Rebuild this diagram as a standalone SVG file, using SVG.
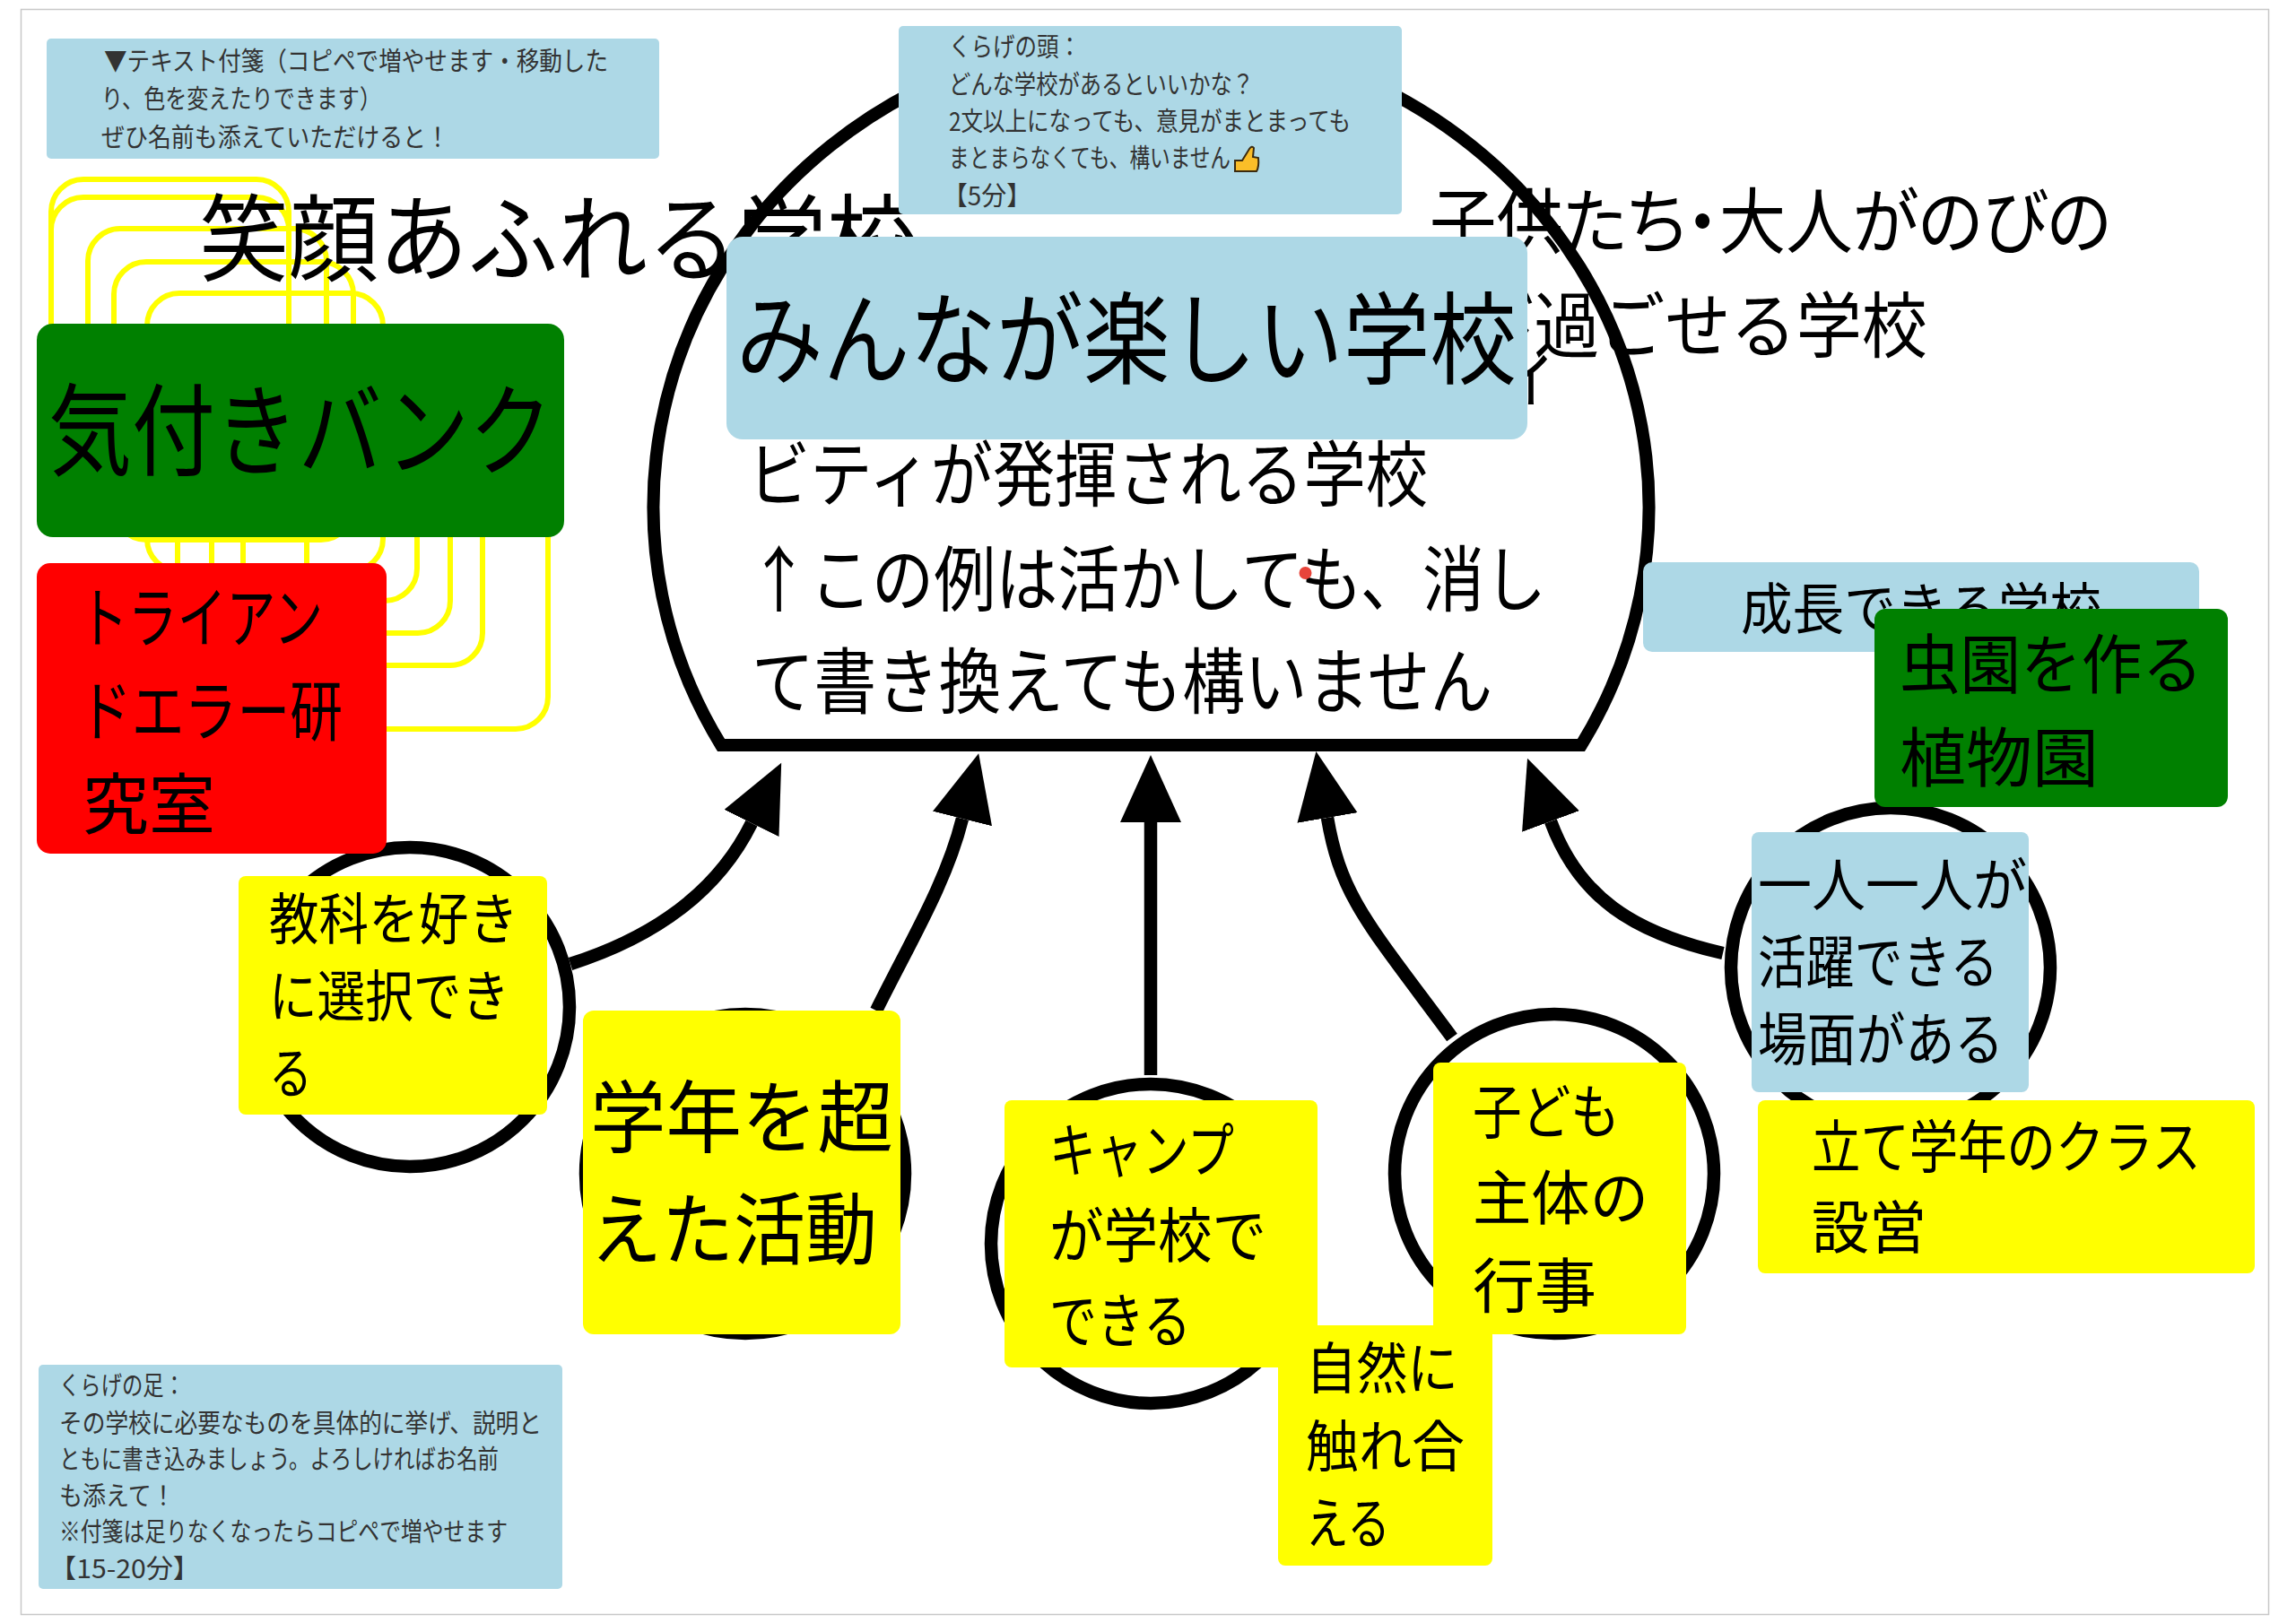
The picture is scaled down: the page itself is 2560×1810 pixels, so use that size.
<svg xmlns="http://www.w3.org/2000/svg" width="2560" height="1810" viewBox="0 0 2560 1810">
<defs>
<marker id="head" markerUnits="userSpaceOnUse" markerWidth="80" markerHeight="70" refX="0" refY="34" orient="auto"><path d="M0,0 L75,34 L0,68 Z" fill="#000"/></marker>
</defs>
<style>
text{font-family:"Noto Sans CJK JP","Noto Sans",sans-serif;font-weight:400;fill:#000;}
text.p{font-feature-settings:"palt";}
.note text{fill:#333;font-size:29px;}
.lb{fill:#add8e6}.yl{fill:#ff0}.gr{fill:#008000}.rd{fill:#f00}
.ol{fill:none;stroke:#ff0;stroke-width:6}
.cir{fill:#fff;stroke:#000;stroke-width:14.5}
.con{fill:none;stroke:#000;stroke-width:14.5}
</style>
<rect width="2560" height="1810" fill="#fff"/>
<rect x="23.5" y="10.5" width="2506" height="1790" fill="#fff" stroke="#c8c8c8" stroke-width="1.5"/>
<g id="yellow-stack">
<rect class="ol" x="57" y="200" width="265" height="310" rx="36"/>
<rect class="ol" x="57" y="220" width="265" height="310" rx="36"/>
<rect class="ol" x="98" y="255" width="266" height="310" rx="36"/>
<rect class="ol" x="127" y="292" width="267" height="310" rx="36"/>
<rect class="ol" x="164" y="327" width="263" height="310" rx="36"/>
<rect class="ol" x="198" y="367" width="267" height="303" rx="36"/>
<rect class="ol" x="236" y="396" width="266" height="310" rx="36"/>
<rect class="ol" x="271" y="432" width="267" height="310" rx="36"/>
<rect class="ol" x="342" y="503" width="269" height="310" rx="36"/>
</g>
<g id="head-dome">
<path d="M804,831 A555,527 0 1 1 1763,831 Z" fill="#fff" stroke="#000" stroke-width="14" stroke-linejoin="miter"/>
</g>
<g id="connectors">
<path class="con" marker-end="url(#head)" d="M636,1075 C730,1045 800,995 838,918"/>
<path class="con" marker-end="url(#head)" d="M977,1127 C1015,1050 1055,985 1073,913"/>
<path class="con" marker-end="url(#head)" d="M1283,1199 L1283,917"/>
<path class="con" marker-end="url(#head)" d="M1619,1157 C1525,1030 1495,1000 1480,912"/>
<path class="con" marker-end="url(#head)" d="M1921,1063 C1820,1040 1760,1000 1729,916"/>
</g>
<g id="leg-circles">
<circle class="cir" cx="457" cy="1123" r="178"/>
<circle class="cir" cx="831" cy="1309" r="178"/>
<circle class="cir" cx="1283" cy="1387" r="178"/>
<circle class="cir" cx="1733" cy="1309" r="178"/>
<circle class="cir" cx="2108" cy="1079" r="178"/>
</g>
<g id="head-text">
<text lengthAdjust="spacingAndGlyphs" x="222" y="305" font-size="106" textLength="800">笑顔あふれる学校</text>
<text class="p" lengthAdjust="spacingAndGlyphs" x="1594" y="276" font-size="80" textLength="760">子供たち・大人がのびの</text>
<text lengthAdjust="spacingAndGlyphs" x="1637" y="392" font-size="80" textLength="512">び過ごせる学校</text>
<text lengthAdjust="spacingAndGlyphs" x="1672" y="444" font-size="80" textLength="68">ィ</text>
<text lengthAdjust="spacingAndGlyphs" x="834" y="558" font-size="80" textLength="758">ビティが発揮される学校</text>
<text lengthAdjust="spacingAndGlyphs" x="834" y="675" font-size="80" textLength="890">↑この例は活かしても、消し</text>
<text lengthAdjust="spacingAndGlyphs" x="838" y="789" font-size="80" textLength="826">て書き換えても構いません</text>
<circle cx="1455.5" cy="639" r="7" fill="#e8443a"/>
</g>
<g id="note-instructions" class="note">
<rect class="lb" x="52" y="43" width="683" height="134" rx="5"/>
<text lengthAdjust="spacingAndGlyphs" x="116" y="79" textLength="562">▼テキスト付箋（コピペで増やせます・移動した</text>
<text lengthAdjust="spacingAndGlyphs" x="113" y="121" textLength="312">り、色を変えたりできます）</text>
<text lengthAdjust="spacingAndGlyphs" x="113" y="164" textLength="388">ぜひ名前も添えていただけると！</text>
</g>
<g id="note-head" class="note">
<rect class="lb" x="1002" y="29" width="561" height="210" rx="5"/>
<text lengthAdjust="spacingAndGlyphs" x="1058" y="63" textLength="147">くらげの頭：</text>
<text lengthAdjust="spacingAndGlyphs" x="1058" y="105" textLength="340">どんな学校があるといいかな？</text>
<text lengthAdjust="spacingAndGlyphs" x="1058" y="146" textLength="448">2文以上になっても、意見がまとまっても</text>
<text lengthAdjust="spacingAndGlyphs" x="1058" y="187" textLength="314">まとまらなくても、構いません</text>
<text lengthAdjust="spacingAndGlyphs" x="1051" y="229" textLength="99">【5分】</text>
<path d="M1377,179 L1385,179 L1393,166 Q1396,162 1398,165 L1397,175 L1403,176 Q1404,186 1401,191 L1377,191 Z" fill="#fbbe28" stroke="#3a2a10" stroke-width="2"/>
</g>
<g id="main-title">
<rect class="lb" x="810" y="264" width="893" height="226" rx="18"/>
<text lengthAdjust="spacingAndGlyphs" x="821" y="420" font-size="112" textLength="870">みんなが楽しい学校</text>
</g>
<g id="note-legs" class="note">
<rect class="lb" x="43" y="1522" width="584" height="250" rx="5"/>
<text lengthAdjust="spacingAndGlyphs" x="66" y="1556" textLength="140">くらげの足：</text>
<text lengthAdjust="spacingAndGlyphs" x="66" y="1598" textLength="538">その学校に必要なものを具体的に挙げ、説明と</text>
<text lengthAdjust="spacingAndGlyphs" x="66" y="1638" textLength="490">ともに書き込みましょう。よろしければお名前</text>
<text lengthAdjust="spacingAndGlyphs" x="66" y="1679" textLength="129">も添えて！</text>
<text lengthAdjust="spacingAndGlyphs" x="66" y="1719" textLength="500">※付箋は足りなくなったらコピペで増やせます</text>
<text lengthAdjust="spacingAndGlyphs" x="55" y="1760" textLength="168">【15-20分】</text>
</g>
<g id="bank">
<rect class="gr" x="41" y="361" width="588" height="238" rx="18"/>
<text lengthAdjust="spacingAndGlyphs" x="54" y="522" font-size="112" textLength="562">気付きバンク</text>
</g>
<g id="trial">
<rect class="rd" x="41" y="628" width="390" height="324" rx="15"/>
<text lengthAdjust="spacingAndGlyphs" x="88" y="716" font-size="74" textLength="272">トライアン</text>
<text lengthAdjust="spacingAndGlyphs" x="88" y="820" font-size="74" textLength="294">ドエラー研</text>
<text lengthAdjust="spacingAndGlyphs" x="92" y="924" font-size="74" textLength="148">究室</text>
</g>
<g id="growth">
<rect class="lb" x="1832" y="627" width="620" height="100" rx="10"/>
<text lengthAdjust="spacingAndGlyphs" x="1941" y="702" font-size="62" textLength="402">成長できる学校</text>
</g>
<g id="insect">
<rect class="gr" x="2090" y="679" width="394" height="221" rx="12"/>
<text lengthAdjust="spacingAndGlyphs" x="2118" y="767" font-size="72" textLength="338">虫園を作る</text>
<text lengthAdjust="spacingAndGlyphs" x="2118" y="871" font-size="72" textLength="222">植物園</text>
</g>
<g id="leg1">
<rect class="yl" x="266" y="977" width="344" height="266" rx="8"/>
<text lengthAdjust="spacingAndGlyphs" x="300" y="1048" font-size="62" textLength="278">教科を好き</text>
<text lengthAdjust="spacingAndGlyphs" x="300" y="1134" font-size="62" textLength="268">に選択でき</text>
<text lengthAdjust="spacingAndGlyphs" x="300" y="1220" font-size="62" textLength="48">る</text>
</g>
<g id="leg2">
<rect class="yl" x="650" y="1127" width="354" height="361" rx="12"/>
<text lengthAdjust="spacingAndGlyphs" x="658" y="1278" font-size="88" textLength="338">学年を超</text>
<text lengthAdjust="spacingAndGlyphs" x="658" y="1403" font-size="88" textLength="320">えた活動</text>
</g>
<g id="leg3">
<rect class="yl" x="1120" y="1227" width="349" height="298" rx="8"/>
<text lengthAdjust="spacingAndGlyphs" x="1170" y="1307" font-size="66" textLength="206">キャンプ</text>
<text lengthAdjust="spacingAndGlyphs" x="1170" y="1402" font-size="66" textLength="242">が学校で</text>
<text lengthAdjust="spacingAndGlyphs" x="1170" y="1497" font-size="66" textLength="158">できる</text>
</g>
<g id="leg4">
<rect class="yl" x="1598" y="1185" width="282" height="303" rx="8"/>
<text lengthAdjust="spacingAndGlyphs" x="1642" y="1264" font-size="66" textLength="164">子ども</text>
<text lengthAdjust="spacingAndGlyphs" x="1642" y="1360" font-size="66" textLength="196">主体の</text>
<text lengthAdjust="spacingAndGlyphs" x="1642" y="1458" font-size="66" textLength="138">行事</text>
</g>
<g id="leg5">
<rect class="yl" x="1425" y="1478" width="239" height="268" rx="8"/>
<text lengthAdjust="spacingAndGlyphs" x="1456" y="1549" font-size="62" textLength="170">自然に</text>
<text lengthAdjust="spacingAndGlyphs" x="1456" y="1636" font-size="62" textLength="177">触れ合</text>
<text lengthAdjust="spacingAndGlyphs" x="1456" y="1722" font-size="62" textLength="94">える</text>
</g>
<g id="leg6">
<rect class="lb" x="1953" y="928" width="309" height="290" rx="8"/>
<text lengthAdjust="spacingAndGlyphs" x="1960" y="1010" font-size="64" textLength="300">一人一人が</text>
<text lengthAdjust="spacingAndGlyphs" x="1960" y="1096" font-size="64" textLength="268">活躍できる</text>
<text lengthAdjust="spacingAndGlyphs" x="1960" y="1182" font-size="64" textLength="274">場面がある</text>
</g>
<g id="grade-class">
<rect class="yl" x="1960" y="1227" width="554" height="193" rx="8"/>
<text lengthAdjust="spacingAndGlyphs" x="2020" y="1302" font-size="64" textLength="434">立て学年のクラス</text>
<text lengthAdjust="spacingAndGlyphs" x="2020" y="1392" font-size="64" textLength="128">設営</text>
</g>
</svg>
